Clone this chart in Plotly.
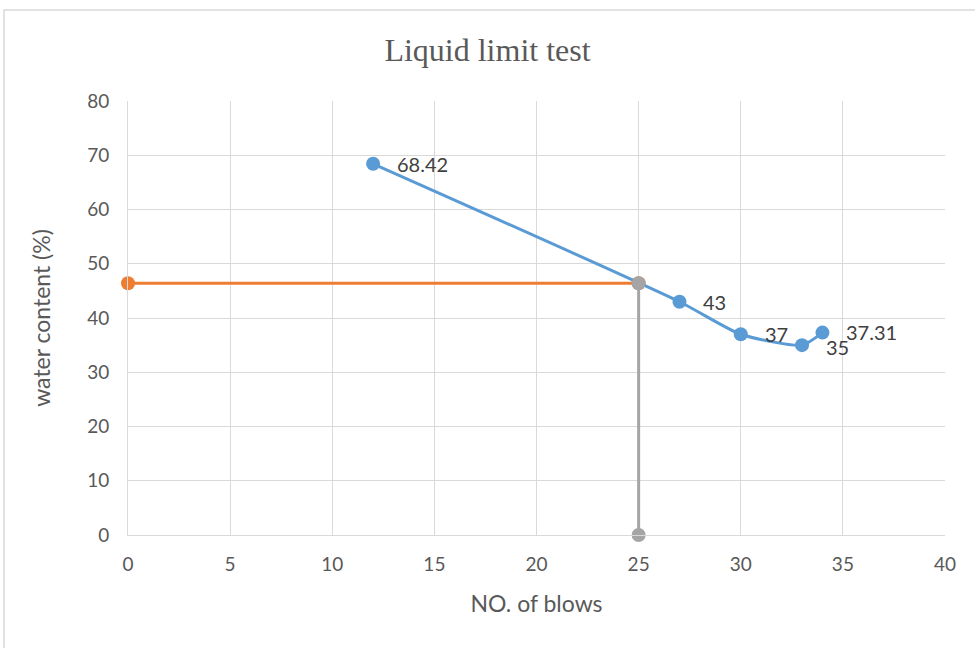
import plotly.graph_objects as go

blows = [12, 27, 30, 33, 34]
water = [68.42, 43, 37, 35, 37.31]
labels = ["68.42", "43", "37", "35", "37.31"]
label_dy = [0, 0, 0, -2, 1]

ll_x = [0, 25]
ll_y = [46.4, 46.4]
vert_x = [25, 25]
vert_y = [46.4, 0]

x_ticks = [0, 5, 10, 15, 20, 25, 30, 35, 40]
y_ticks = [0, 10, 20, 30, 40, 50, 60, 70, 80]

font_main = "Lato, Open Sans, sans-serif"
grey_txt = "#595959"

fig = go.Figure()
fig.add_trace(go.Scatter(
    x=ll_x, y=ll_y, mode="lines+markers", cliponaxis=False,
    line=dict(color="#ed7d31", width=3),
    marker=dict(color="#ed7d31", size=14), showlegend=False))
fig.add_trace(go.Scatter(
    x=blows, y=water, mode="lines+markers", cliponaxis=False,
    line=dict(color="#5b9bd5", width=3, shape="spline", smoothing=0.6),
    marker=dict(color="#5b9bd5", size=14),
    showlegend=False))
fig.add_trace(go.Scatter(
    x=vert_x, y=vert_y, mode="lines+markers", cliponaxis=False,
    line=dict(color="#a5a5a5", width=3),
    marker=dict(color="#a5a5a5", size=14), showlegend=False))

annotations = [dict(x=bx, y=wy, xref="x", yref="y", text=t, showarrow=False,
                    xanchor="left", yanchor="middle", xshift=22, yshift=dy,
                    font=dict(family=font_main, size=20, color="#404040"))
               for bx, wy, t, dy in zip(blows, water, labels, label_dy)]

fig.update_layout(
    width=975, height=648,
    margin=dict(l=128, r=30, t=101, b=113),
    paper_bgcolor="white", plot_bgcolor="white",
    title=dict(text="Liquid limit test", x=0.5, xanchor="center",
               y=1 - 50 / 648, yanchor="middle",
               font=dict(family="Liberation Serif, Times New Roman, serif", size=32, color=grey_txt)),
    xaxis=dict(range=[0, 40], tickvals=x_ticks, showgrid=True, gridcolor="#d9d9d9", gridwidth=1,
               zeroline=False, showline=True, linecolor="#d9d9d9", linewidth=1,
               ticks="", ticklabelstandoff=12,
               tickfont=dict(family=font_main, size=19, color=grey_txt),
               title=dict(text="NO. of blows", standoff=22,
                          font=dict(family=font_main, size=23, color=grey_txt))),
    yaxis=dict(range=[0, 80], tickvals=y_ticks, showgrid=True, gridcolor="#d9d9d9", gridwidth=1,
               zeroline=False, showline=True, linecolor="#d9d9d9", linewidth=1,
               ticks="", ticklabelstandoff=14,
               tickfont=dict(family=font_main, size=19, color=grey_txt),
               title=dict(text="water content (%)", standoff=30,
                          font=dict(family=font_main, size=23, color=grey_txt))),
    annotations=annotations,
    shapes=[dict(type="rect", xref="paper", yref="paper",
                 x0=(4 - 128) / 817, x1=(1000 - 128) / 817,
                 y0=(535 - 700) / 434, y1=(535 - 10) / 434,
                 line=dict(color="#d9d9d9", width=1.5), layer="below")],
)

fig.write_html("out.html")
